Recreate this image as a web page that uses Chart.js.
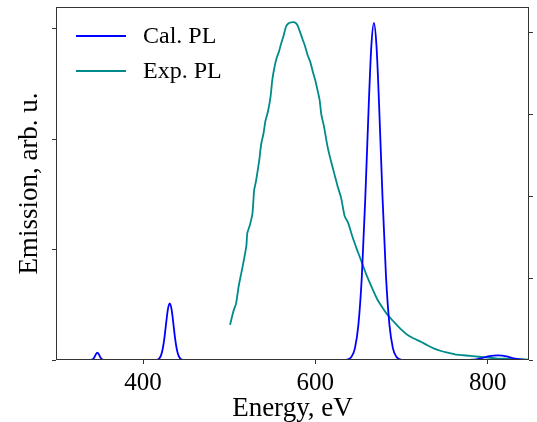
<!DOCTYPE html>
<html>
<head>
<meta charset="utf-8">
<script src="https://cdn.jsdelivr.net/npm/chart.js@4/dist/chart.umd.min.js"></script>
<style>
  html, body { margin: 0; padding: 0; background: #fff; }
  #wrap { width: 537px; height: 422px; position: relative; }
</style>
</head>
<body>
<div id="wrap"><canvas id="plChart"></canvas></div>
<script>
// Cal. PL (left axis, arb. u.)
const calEnergy = [299, 335, 341, 343, 345, 347, 349, 351, 353, 356,
  414, 417, 419, 421, 423, 425, 427, 429, 431, 433, 435, 437, 439, 441, 443, 445, 448,
  632, 638, 642, 646, 650, 654, 658, 662, 665, 668, 671, 674, 678, 682, 686, 690, 694, 698, 703,
  770, 780, 787, 792, 797, 802, 807, 812, 817, 822, 827, 832, 838, 843, 848];
const calEmission = [0, 0, 0.004, 0.018, 0.048, 0.066, 0.048, 0.018, 0.004, 0,
  0, 0.004, 0.015, 0.044, 0.106, 0.21, 0.346, 0.465, 0.513, 0.465, 0.346, 0.21, 0.106, 0.044, 0.015, 0.004, 0,
  0, 0.007, 0.03, 0.108, 0.32, 0.76, 1.47, 2.31, 2.84, 3.05, 2.84, 2.31, 1.47, 0.76, 0.32, 0.108, 0.03, 0.007, 0,
  0, 0.002, 0.006, 0.014, 0.025, 0.035, 0.04, 0.042, 0.04, 0.032, 0.022, 0.013, 0.006, 0.002, 0];

// Exp. PL (right axis, arb. u.)
const expEnergy = [501, 505, 508, 511, 514, 517, 520, 521, 524, 527, 529, 531, 533, 535, 537, 540,
  542, 545, 548, 550, 552, 555, 558, 560, 563, 566, 569, 572, 576, 579, 582, 585, 588, 591, 594,
  597, 600, 603, 605, 607, 610, 614, 618, 622, 626, 630, 634, 638, 643, 648, 653, 659, 665, 672,
  678, 684, 690, 696, 702, 708, 715, 723, 730, 738, 746, 754, 762, 770, 780, 790, 800, 810, 820,
  835, 848];
const expEmission = [0.43, 0.6, 0.69, 0.9, 1.06, 1.22, 1.4, 1.55, 1.65, 1.79, 2.08, 2.18, 2.31, 2.45, 2.63, 2.78,
  2.92, 3.04, 3.22, 3.42, 3.55, 3.69, 3.78, 3.86, 3.96, 4.08, 4.12, 4.13, 4.13, 4.1, 4.02, 3.93, 3.84, 3.73, 3.65,
  3.53, 3.42, 3.28, 3.18, 3.0, 2.86, 2.62, 2.44, 2.28, 2.12, 1.98, 1.76, 1.68, 1.51, 1.36, 1.22, 1.05, 0.9, 0.74,
  0.64, 0.55, 0.48, 0.41, 0.35, 0.3, 0.26, 0.22, 0.18, 0.14, 0.11, 0.09, 0.07, 0.06, 0.05, 0.04, 0.03, 0.02, 0.015,
  0.008, 0.004];

const xTicks = [400, 600, 800];
const leftTicks = [0, 1, 2, 3];
const rightTicks = [0, 1, 2, 3, 4];

const seriesNames = ["Cal. PL", "Exp. PL"];
const seriesColors = ["#0000ff", "#008b8b"];

const FONT = "'Liberation Serif', 'Times New Roman', serif";

function toPoints(xs, ys) {
  return xs.map((x, i) => ({ x: x, y: ys[i] }));
}

// frame round the plot area + legend inside top-left
const framePlugin = {
  id: "frame",
  afterDraw(chart) {
    const ctx = chart.ctx;
    const a = chart.chartArea;
    ctx.save();
    ctx.strokeStyle = "#333";
    ctx.lineWidth = 1;
    const l = Math.round(a.left) + 0.5, t = Math.round(a.top) + 0.5;
    const r = Math.round(a.right) - 0.5, b = Math.round(a.bottom) - 0.5;
    ctx.strokeRect(l, t, r - l, b - t);

    // legend
    ctx.font = "24px " + FONT;
    ctx.textBaseline = "middle";
    ctx.textAlign = "left";
    chart.data.datasets.forEach((ds, i) => {
      const y = 36 + i * 35;
      ctx.strokeStyle = ds.borderColor;
      ctx.lineWidth = 1.8;
      ctx.beginPath();
      ctx.moveTo(76, y);
      ctx.lineTo(126, y);
      ctx.stroke();
      ctx.fillStyle = "#000";
      ctx.fillText(ds.label, 143, y + 1);
    });
    ctx.restore();
  },
};

const tickGrid = {
  display: true,
  drawOnChartArea: false,
  drawTicks: true,
  tickLength: 4,
  color: "#333",
  lineWidth: 1,
};

new Chart(document.getElementById("plChart").getContext("2d"), {
  type: "line",
  data: {
    datasets: [
      {
        label: seriesNames[0],
        data: toPoints(calEnergy, calEmission),
        borderColor: seriesColors[0],
        borderWidth: 1.8,
        pointRadius: 0,
        cubicInterpolationMode: "monotone",
        yAxisID: "y",
      },
      {
        label: seriesNames[1],
        data: toPoints(expEnergy, expEmission),
        borderColor: seriesColors[1],
        borderWidth: 1.8,
        pointRadius: 0,
        tension: 0.2,
        yAxisID: "y1",
      },
    ],
  },
  options: {
    responsive: true,
    maintainAspectRatio: false,
    animation: false,
    devicePixelRatio: 1,
    layout: { padding: { top: 7, right: 4, left: 0, bottom: 0 } },
    plugins: {
      legend: { display: false },
      tooltip: { enabled: false },
    },
    scales: {
      x: {
        type: "linear",
        min: 299,
        max: 848,
        afterBuildTicks: (axis) => {
          axis.ticks = xTicks.map((v) => ({ value: v }));
        },
        afterFit: (axis) => {
          axis.height = 62;
        },
        grid: tickGrid,
        border: { display: false },
        ticks: {
          color: "#000",
          padding: 4,
          maxRotation: 0,
          font: { family: FONT, size: 25 },
        },
        title: {
          display: true,
          text: "Energy, eV",
          color: "#000",
          font: { family: FONT, size: 27, lineHeight: 1 },
          padding: { top: 0, bottom: 0 },
        },
      },
      y: {
        position: "left",
        min: 0,
        max: 3.195,
        afterBuildTicks: (axis) => {
          axis.ticks = leftTicks.map((v) => ({ value: v }));
        },
        afterFit: (axis) => {
          axis.width = 56;
        },
        grid: tickGrid,
        border: { display: false },
        ticks: { display: false },
        title: {
          display: true,
          text: "Emission, arb. u.",
          color: "#000",
          font: { family: FONT, size: 27, lineHeight: 1 },
          padding: { top: 16, bottom: 0 },
        },
      },
      y1: {
        position: "right",
        min: 0,
        max: 4.318,
        afterBuildTicks: (axis) => {
          axis.ticks = rightTicks.map((v) => ({ value: v }));
        },
        afterFit: (axis) => {
          axis.width = 4;
        },
        grid: tickGrid,
        border: { display: false },
        ticks: { display: false },
      },
    },
  },
  plugins: [framePlugin],
});
</script>
</body>
</html>
